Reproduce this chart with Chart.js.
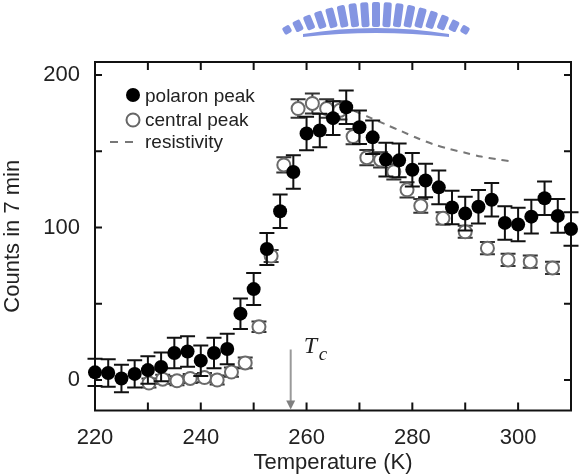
<!DOCTYPE html>
<html><head><meta charset="utf-8">
<script src="https://cdn.jsdelivr.net/npm/chart.js@4.4.0/dist/chart.umd.min.js"></script>
<style>html,body{margin:0;padding:0;background:#fff;}canvas{display:block;}</style>
</head><body>
<canvas id="c" width="584" height="475"></canvas>
<script>
// ---- data ----
const polaronT = [220,222.5,225,227.5,230,232.5,235,237.5,240,242.5,245,247.5,250,252.5,255,257.5,260,262.5,265,267.5,270,272.5,275,277.5,280,282.5,285,287.5,290,292.5,295,297.5,300,302.5,305,307.5,310];
const polaronCounts = [5,4.6,1,4,6.5,8.6,17.7,18.7,12.7,17.7,20.3,43.5,59.6,85.9,110.6,136.4,161.6,163.6,171.7,178.8,165.7,159.1,144.5,144,137.9,130.8,126.3,113.1,109.1,113.6,118.2,103,102,107.1,119.2,107.6,99];
const polaronErr = [9,9,9,9,9,9.5,10,10,10,10,10,10,10.5,10.5,11,11,11,11,11,11,11,11,11,11,11,11,11,11,11,11,11,11,11,11,11,11,11];
const centralT = [230.2,232.8,235.5,238,240.7,243.1,245.8,248.4,251,253.3,255.7,258.4,261.1,263.8,266.3,268.8,271.4,274,276.5,279,281.6,285.8,290,294.2,298.1,302.3,306.5];
const centralCounts = [-2,0.5,-0.5,1,1.6,0,5.2,11.2,34.9,81.3,141,178,181.3,178,176.8,159.6,145.8,144.3,136.5,124.7,114.2,106,97.2,86.4,78.7,77.6,73.5];
const centralErr = [3,3,3,3,3,3,3,3.5,3.5,4,5,6,6.5,6,6,5,5,5,5,5,4.5,4,4,4,4,4,4];
const resistT = [269,272,275,278,281,284,287,290,293,296,298.5];
const resistivity = [176.5,172,167.5,163,158.5,154.5,151.5,149,146.5,144.7,143.5];
const xTickLabels = [220,240,260,280,300];
const xMinorTicks = [230,240,250,260,270,280,290,300];
const yTickLabels = [0,100,200];
const yMinorTicks = [0,50,100,150,200];
const TcValue = 257;

const FONT = '"Liberation Sans", Arial, Helvetica, sans-serif';
const pts = (xs, ys) => xs.map((x, i) => ({x: x, y: ys[i]}));

const errorBars = {
  id: 'errorBars',
  beforeDatasetDraw(chart, args) {
    const ds = chart.data.datasets[args.index];
    if (!ds.errors) return;
    const {ctx, scales: {x, y}} = chart;
    ctx.save();
    ctx.strokeStyle = ds.errColor;
    ctx.lineWidth = 2;
    ds.data.forEach((p, i) => {
      const e = ds.errors[i];
      const px = x.getPixelForValue(p.x);
      const y1 = y.getPixelForValue(p.y + e), y2 = y.getPixelForValue(p.y - e);
      ctx.beginPath();
      ctx.moveTo(px, y1); ctx.lineTo(px, y2);
      ctx.moveTo(px - ds.cap, y1); ctx.lineTo(px + ds.cap, y1);
      ctx.moveTo(px - ds.cap, y2); ctx.lineTo(px + ds.cap, y2);
      ctx.stroke();
    });
    ctx.restore();
  }
};

const frame = {
  id: 'frame',
  beforeDatasetsDraw(chart) {
    const {ctx, chartArea: a, scales: {x, y}} = chart;
    ctx.save();
    ctx.strokeStyle = '#111';
    ctx.lineWidth = 2;
    ctx.strokeRect(a.left, a.top, a.right - a.left, a.bottom - a.top);
    ctx.beginPath();
    xMinorTicks.forEach(v => {
      const p = x.getPixelForValue(v);
      ctx.moveTo(p, a.bottom); ctx.lineTo(p, a.bottom - 8);
      ctx.moveTo(p, a.top); ctx.lineTo(p, a.top + 8);
    });
    yMinorTicks.forEach(v => {
      const p = y.getPixelForValue(v);
      ctx.moveTo(a.left, p); ctx.lineTo(a.left + 7, p);
      ctx.moveTo(a.right, p); ctx.lineTo(a.right - 7, p);
    });
    ctx.stroke();
    ctx.restore();
  }
};

function drawLogo(ctx) {
  ctx.save();
  ctx.fillStyle = '#8495e2';
  const cx = 376, cy = 184, R = 183;
  const n = 17;
  for (let i = 0; i < n; i++) {
    const t = i / (n - 1);
    const deg = -90 - 30 + 60 * t;
    const a = deg * Math.PI / 180;
    const len = 8 + 17 * Math.sin(Math.PI * t);
    ctx.save();
    ctx.translate(cx + Math.cos(a) * R, cy + Math.sin(a) * R);
    ctx.rotate(a + Math.PI / 2);
    ctx.beginPath();
    ctx.roundRect(-4, 1, 8, len, 2);
    ctx.fill();
    ctx.restore();
  }
  ctx.beginPath();
  ctx.moveTo(303, 34);
  ctx.quadraticCurveTo(376, 22, 449, 34);
  ctx.lineTo(449, 37);
  ctx.quadraticCurveTo(376, 29, 303, 37);
  ctx.closePath();
  ctx.fill();
  ctx.restore();
}

const annotations = {
  id: 'annotations',
  afterDraw(chart) {
    const {ctx, scales: {x, y}, chartArea: a} = chart;
    ctx.save();
    drawLogo(ctx);
    // Tc arrow
    const tx = x.getPixelForValue(TcValue);
    const ty = y.getPixelForValue(20);
    ctx.strokeStyle = '#9a9a9a';
    ctx.lineWidth = 2;
    ctx.beginPath();
    ctx.moveTo(tx, ty); ctx.lineTo(tx, a.bottom - 8);
    ctx.stroke();
    ctx.fillStyle = '#808080';
    ctx.beginPath();
    ctx.moveTo(tx - 4.5, a.bottom - 10);
    ctx.lineTo(tx + 4.5, a.bottom - 10);
    ctx.lineTo(tx, a.bottom - 1);
    ctx.closePath();
    ctx.fill();
    ctx.fillStyle = '#222';
    ctx.textBaseline = 'alphabetic';
    ctx.textAlign = 'left';
    ctx.font = 'italic 24px "Liberation Serif", "Times New Roman", serif';
    ctx.fillText('T', tx + 13, 353);
    ctx.font = 'italic 19px "Liberation Serif", "Times New Roman", serif';
    ctx.fillText('c', tx + 28, 360);
    // legend
    ctx.fillStyle = '#000';
    ctx.beginPath(); ctx.arc(133, 95, 7, 0, Math.PI * 2); ctx.fill();
    ctx.fillStyle = '#fff'; ctx.strokeStyle = '#666'; ctx.lineWidth = 2;
    ctx.beginPath(); ctx.arc(133, 120, 6.5, 0, Math.PI * 2); ctx.fill(); ctx.stroke();
    ctx.strokeStyle = '#777'; ctx.lineWidth = 2;
    ctx.setLineDash([8, 7]);
    ctx.beginPath(); ctx.moveTo(110, 142); ctx.lineTo(133, 142); ctx.stroke();
    ctx.setLineDash([]);
    ctx.fillStyle = '#222';
    ctx.font = '19px ' + FONT;
    ctx.fillText('polaron peak', 145, 102);
    ctx.fillText('central peak', 145, 126);
    ctx.fillText('resistivity', 145, 148);
    ctx.restore();
  }
};

new Chart(document.getElementById('c'), {
  type: 'scatter',
  data: {
    datasets: [
      {
        label: 'polaron peak',
        data: pts(polaronT, polaronCounts),
        errors: polaronErr, errColor: '#111', cap: 7.5,
        pointRadius: 7, pointBackgroundColor: '#000', pointBorderColor: '#000', pointBorderWidth: 0,
        order: 0, clip: false
      },
      {
        label: 'central peak',
        data: pts(centralT, centralCounts),
        errors: centralErr, errColor: '#333', cap: 7.5,
        pointRadius: 6.5, pointBackgroundColor: '#fff', pointBorderColor: '#6a6a6a', pointBorderWidth: 2,
        order: 1, clip: false
      },
      {
        label: 'resistivity',
        data: pts(resistT, resistivity),
        showLine: true, pointRadius: 0, borderColor: '#777', borderWidth: 2,
        borderDash: [7, 6], tension: 0.3, fill: false,
        order: 2
      }
    ]
  },
  options: {
    responsive: false,
    animation: false,
    events: [],
    layout: {padding: {left: 0, right: 13, top: 62, bottom: 0}},
    plugins: {legend: {display: false}, tooltip: {enabled: false}},
    scales: {
      x: {
        type: 'linear', min: 220, max: 310,
        afterBuildTicks: s => { s.ticks = xTickLabels.map(v => ({value: v})); },
        afterFit: s => { s.height = 64.5; },
        grid: {display: false, drawTicks: false}, border: {display: false},
        ticks: {font: {size: 22, family: FONT}, color: '#222', padding: 14, maxRotation: 0, autoSkip: false},
        title: {display: true, text: 'Temperature (K)', font: {size: 22, family: FONT}, color: '#222', padding: {top: 0, bottom: -1}}
      },
      y: {
        type: 'linear', min: -20, max: 208.5,
        afterBuildTicks: s => { s.ticks = yTickLabels.map(v => ({value: v})); },
        afterFit: s => { s.width = 95; },
        grid: {display: false, drawTicks: false}, border: {display: false},
        ticks: {font: {size: 22, family: FONT}, color: '#222', padding: 15},
        title: {display: true, text: 'Counts in 7 min', font: {size: 22, family: FONT}, color: '#222', padding: {top: 0, bottom: 0}}
      }
    }
  },
  plugins: [frame, errorBars, annotations]
});
</script>
</body></html>
